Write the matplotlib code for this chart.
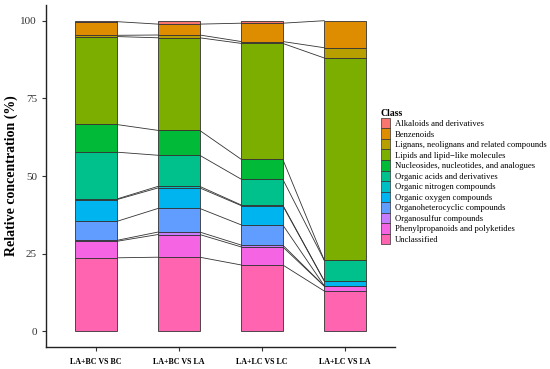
import matplotlib
matplotlib.use("Agg")
import matplotlib.pyplot as plt
from matplotlib.patches import Patch
import numpy as np

groups = ["LA+BC VS BC", "LA+BC VS LA", "LA+LC VS LC", "LA+LC VS LA"]
classes = ["Unclassified", "Phenylpropanoids and polyketides", "Organosulfur compounds",
           "Organoheterocyclic compounds", "Organic oxygen compounds", "Organic nitrogen compounds",
           "Organic acids and derivatives", "Nucleosides, nucleotides, and analogues",
           "Lipids and lipid\u2212like molecules", "Lignans, neolignans and related compounds",
           "Benzenoids", "Alkaloids and derivatives"]
colors = ["#FF64B0", "#F564E3", "#C77CFF", "#619CFF", "#00B4F0", "#00BFC4",
          "#00C08B", "#00BA38", "#7CAE00", "#B79F00", "#DE8C00", "#F8766D"]

# cumulative tops per class (bottom to top), per group
cum = {
    "LA+BC VS BC": [23.7, 29.0, 29.3, 35.4, 42.4, 42.6, 57.7, 66.6, 94.9, 95.3, 99.7, 100.0],
    "LA+BC VS LA": [23.9, 31.2, 32.0, 39.6, 46.2, 46.7, 56.7, 64.7, 94.5, 95.4, 98.9, 100.0],
    "LA+LC VS LC": [21.4, 27.2, 27.8, 34.3, 40.5, 40.7, 49.0, 55.4, 92.7, 93.3, 99.2, 100.0],
    "LA+LC VS LA": [13.0, 14.6, 14.6, 14.7, 16.2, 16.3, 22.9, 22.9, 88.0, 91.3, 100.0, 100.0],
}

plt.rcParams['font.family'] = ['Liberation Serif', 'DejaVu Serif']
fig = plt.figure(figsize=(5.5, 3.69), dpi=100)
ax = fig.add_axes([0.0836, 0.0596, 0.718 - 0.0836, 0.986 - 0.0596])

x = np.arange(1, len(groups) + 1)
w = 0.5
for i, g in enumerate(groups):
    tops = cum[g]
    bottom = 0.0
    for k, t in enumerate(tops):
        h = t - bottom
        if h > 0:
            ax.bar(x[i], h, width=w, bottom=bottom, color=colors[k],
                   edgecolor="#333333", linewidth=0.6, zorder=2)
        bottom = t
# flow lines
for i in range(len(groups) - 1):
    a = cum[groups[i]]
    b = cum[groups[i + 1]]
    for k in range(len(classes) - 1):
        ax.plot([x[i] + w / 2, x[i + 1] - w / 2], [a[k], b[k]], color="#333333",
                linewidth=0.6, zorder=1)

ax.set_xlim(0.4, 4.6)
ax.set_ylim(-5, 105)
ax.set_yticks([0, 25, 50, 75, 100])
ax.set_xticks(x)
ax.set_xticklabels(groups, fontweight="bold", fontsize=5.8)
ax.tick_params(axis="y", labelsize=8, length=3, width=0.8, colors="#333333", labelcolor="#333333")
ax.tick_params(axis="x", length=3, width=0.8, colors="#333333", labelcolor="black", pad=5)
for s in ["top", "right"]:
    ax.spines[s].set_visible(False)
for s in ["left", "bottom"]:
    ax.spines[s].set_linewidth(1.0)
    ax.spines[s].set_color("#222222")
ax.set_ylabel("Relative concentration (%)", fontweight="bold", fontsize=10, labelpad=2)

handles = [Patch(facecolor=colors[k], edgecolor="#333333", linewidth=0.5, label=classes[k])
           for k in range(len(classes) - 1, -1, -1)]
leg = fig.legend(handles=handles, loc="upper left", bbox_to_anchor=(0.686, 0.714),
                 frameon=False, fontsize=6.2, title="Class",
                 title_fontproperties={"weight": "bold", "size": 7},
                 handlelength=1.05, handleheight=1.5, labelspacing=0.0,
                 handletextpad=0.55, borderaxespad=0)
leg._legend_box.align = "left"
fig.savefig("out.png", dpi=100)
